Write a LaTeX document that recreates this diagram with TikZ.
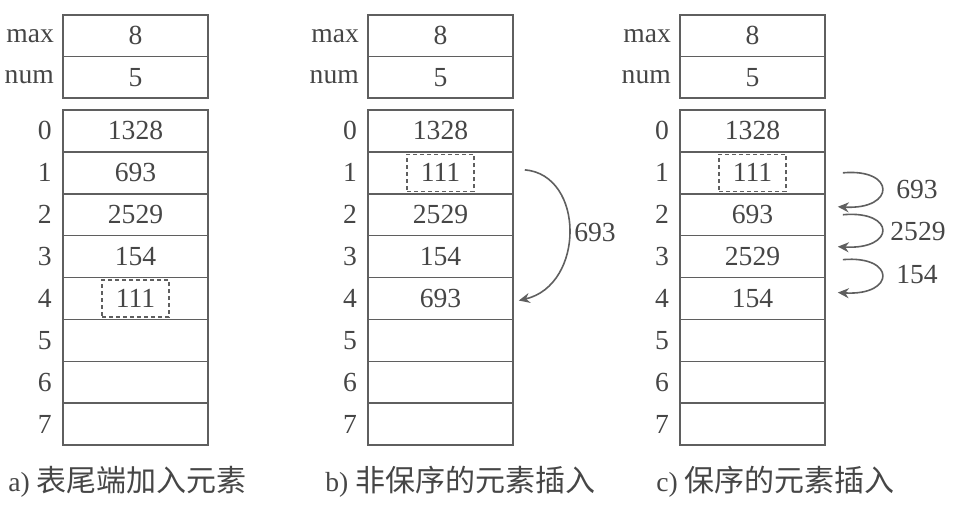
\documentclass[tikz,border=0pt]{standalone}
\usepackage{fontspec}
\setmainfont{Liberation Serif}
\newfontfamily\cjk{Noto Sans CJK SC}
\usetikzlibrary{arrows.meta}
\definecolor{ln}{RGB}{95,95,95}
\definecolor{tx}{RGB}{70,70,70}
\tikzset{
 txt/.style={text=tx, font=\fontsize{13.8}{15}\selectfont},
 cell/.style={txt, draw=ln, line width=0.8pt, minimum width=72.5pt, minimum height=20.95pt, inner sep=0pt},
 lab/.style={txt, inner sep=0pt, anchor=east},
 newbox/.style={txt, draw=ln, dash pattern=on 2pt off 1.5pt, line width=0.7pt, minimum width=33.5pt, minimum height=18.5pt, inner sep=0pt},
 arr/.style={draw=ln, line width=0.8pt, -{Stealth[length=5.5pt,width=5pt]}},
 captext/.style={txt, anchor=west, inner sep=0pt}
}
\newcommand\seqtable[3]{%
 \node[cell, minimum height=20.75pt] (#1max) at (#2+72.5, 35.75) {8};
 \node[cell, minimum height=20.75pt] (#1num) at (#2+72.5, 77.25) {5};
 \node[lab] (#1maxl) at ([xshift=-4pt]#1max.west) {max};
 \node[lab] (#1numl) at ([xshift=-4pt]#1num.west) {num};
 \foreach \i/\v in {#3} {
   \node[cell] (#1\i) at (#2+72.5, 130.95+41.9*\i) {\v};
   \node[lab] (#1idx\i) at ([xshift=-5pt]#1\i.west) {\i};
 }
}
\begin{document}
\begin{tikzpicture}[x=0.5pt,y=-0.5pt]
\useasboundingbox (0,0) rectangle (970,517);
% table a
\seqtable{a}{63}{0/1328,1/693,2/2529,3/154,4/,5/,6/,7/}
\node[newbox] (anew) at (a4) {111};
% table b
\seqtable{b}{368}{0/1328,1/,2/2529,3/154,4/693,5/,6/,7/}
\node[newbox] (bnew) at (b1) {111};
\draw[arr] ([shift={(11,-3)}]b1.east) .. controls (585,175) and (585,285) .. ([shift={(5,2)}]b4.east);
\node[txt, inner sep=0pt] (bl) at (595,233) {693};
% table c
\seqtable{c}{680}{0/1328,1/,2/693,3/2529,4/154,5/,6/,7/}
\node[newbox] (cnew) at (c1) {111};
\draw[arr] ([shift={(17,0)}]c1.east) .. controls (896,168) and (896,210) .. ([shift={(12,-8)}]c2.east);
\draw[arr] ([shift={(17,0)}]c2.east) .. controls (896,210) and (896,250) .. ([shift={(12,-10)}]c3.east);
\draw[arr] ([shift={(17,3)}]c3.east) .. controls (896,255) and (896,296) .. ([shift={(12,-6)}]c4.east);
\node[txt, inner sep=0pt] (cl1) at (917,190) {693};
\node[txt, inner sep=0pt] (cl2) at (918,232) {2529};
\node[txt, inner sep=0pt] (cl3) at (917,275) {154};
% captions
\node[captext] (capa) at (8,482) {a) {\cjk\fontsize{15}{18}\selectfont 表尾端加入元素}};
\node[captext] (capb) at (325,482) {b) {\cjk\fontsize{15}{18}\selectfont 非保序的元素插入}};
\node[captext] (capc) at (656,482) {c) {\cjk\fontsize{15}{18}\selectfont 保序的元素插入}};
\end{tikzpicture}
\end{document}
